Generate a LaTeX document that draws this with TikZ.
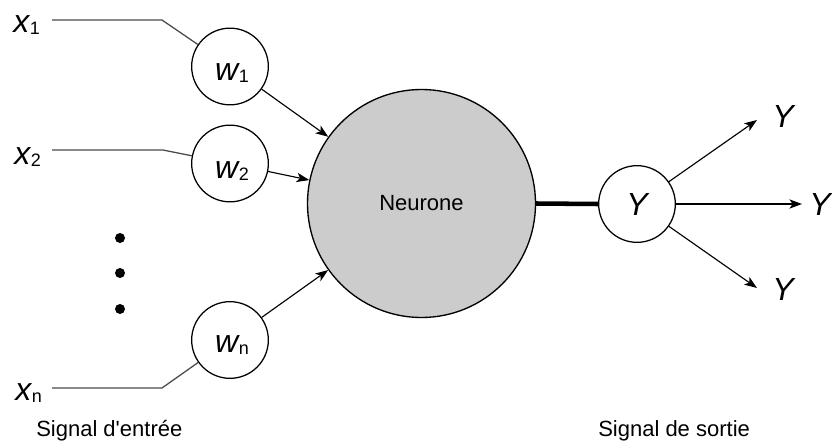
\documentclass[tikz,border=0pt]{standalone}
\usepackage{fontspec}
\setmainfont{Liberation Sans}
\usetikzlibrary{arrows.meta}
\definecolor{neurongray}{HTML}{CCCCCC}
\definecolor{linegray}{HTML}{4A4A4A}
\newcommand\vlet[2]{{\fontsize{24}{26}\selectfont\itshape #1}\kern0.5pt{\fontsize{13.5}{15}\selectfont\raisebox{-1.5pt}{#2}}}
\tikzset{
  wnode/.style={circle, draw, line width=0.95pt, minimum size=57.5pt, inner sep=0pt},
  neuron/.style={circle, draw, fill=neurongray, line width=1pt, minimum size=171pt, inner sep=0pt, font=\fontsize{16.5}{18}\selectfont},
  arr/.style={-{Stealth[length=9.5pt,width=7pt,inset=2.5pt]}, line width=0.85pt},
  inline/.style={draw=linegray, line width=0.95pt},
  thick link/.style={line width=3.4pt},
  lbl/.style={inner sep=0pt, font=\fontsize{16.5}{18}\selectfont, anchor=base west},
  var/.style={inner sep=0pt, anchor=base west},
  wtext/.style={inner sep=0pt},
  ylabel/.style={inner sep=0pt, font=\fontsize{24}{26}\selectfont\itshape},
  dot/.style={circle, fill, minimum size=7.5pt, inner sep=0pt}
}
\begin{document}
\begin{tikzpicture}[x=0.75pt, y=-0.75pt]
\useasboundingbox (0,0) rectangle (832,443);

% neuron and output node
\node[neuron] (neuron) at (421.5,203.5) {Neurone};
\node[wnode] (Y) at (637,204) {\fontsize{24}{26}\selectfont\itshape Y};

% weight nodes
\node[wnode] (w1) at (230,66.5) {};
\node[wnode] (w2) at (230,163.5) {};
\node[wnode] (wn) at (230,340) {};
\node[wtext] (w1t) at (232,73) {\vlet{w}{1}};
\node[wtext] (w2t) at (232,171) {\vlet{w}{2}};
\node[wtext] (wnt) at (232,345) {\vlet{w}{n}};

% input labels
\node[var] (x1) at (13,32) {\vlet{x}{1}};
\node[var] (x2) at (14,164) {\vlet{x}{2}};
\node[var] (xn) at (15,400) {\vlet{x}{n}};

% input line points
\coordinate (s1) at (52,20);
\coordinate (b1) at (162,20);
\coordinate (s2) at (52,150);
\coordinate (b2) at (163,150);
\coordinate (sn) at (52,388);
\coordinate (bn) at (162,388);

\draw[inline] (s1) -- (b1) -- (w1);
\draw[inline] (s2) -- (b2) -- (w2);
\draw[inline] (sn) -- (bn) -- (wn);

% dots
\node[dot] (d1) at (120,238) {};
\node[dot] (d2) at (120,273) {};
\node[dot] (d3) at (120,309) {};

% weights to neuron
\draw[arr] (w1) -- (neuron);
\draw[arr] (w2) -- (neuron);
\draw[arr] (wn) -- (neuron);

% neuron to output
\draw[thick link] (neuron.east) -- (Y.west);

% outputs
\coordinate (o1) at (757,120);
\coordinate (o2) at (802,204);
\coordinate (o3) at (757,288);
\draw[arr] (Y) -- (o1);
\draw[arr] (Y) -- (o2);
\draw[arr] (Y) -- (o3);
\node[ylabel] (y1) at (783,116) {Y};
\node[ylabel] (y2) at (820,204) {Y};
\node[ylabel] (y3) at (783,289) {Y};

% captions
\node[lbl] (cin) at (36,436) {Signal d\textquotesingle entrée};
\node[lbl] (cout) at (598,436) {Signal de sortie};
\end{tikzpicture}
\end{document}
